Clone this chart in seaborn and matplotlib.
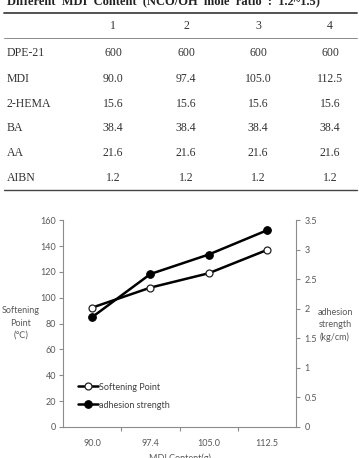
import matplotlib
matplotlib.use("Agg")
import matplotlib.pyplot as plt
import seaborn as sns
import pandas as pd
from matplotlib.lines import Line2D

# ---- data ----
col_headers = ["1", "2", "3", "4"]
row_labels = ["DPE-21", "MDI", "2-HEMA", "BA", "AA", "AIBN"]
row_values = [
    ["600", "600", "600", "600"],
    ["90.0", "97.4", "105.0", "112.5"],
    ["15.6", "15.6", "15.6", "15.6"],
    ["38.4", "38.4", "38.4", "38.4"],
    ["21.6", "21.6", "21.6", "21.6"],
    ["1.2", "1.2", "1.2", "1.2"],
]
table_title = "Different  MDI  Content  (NCO/OH  mole  ratio  :  1.2~1.5)"

mdi_content = ["90.0", "97.4", "105.0", "112.5"]
softening_point = [92.4, 107.9, 119.0, 137.0]
adhesion_strength = [1.86, 2.59, 2.92, 3.33]

W, H = 359, 458
sns.set_theme(style="white")
fig = plt.figure(figsize=(W / 100, H / 100), dpi=100)
fig.patch.set_facecolor("white")

def fx(px):
    return px / W

def fy(py):
    return 1 - py / H

# ---- table ----
serif = ["Liberation Serif", "DejaVu Serif"]
fig.text(fx(7), fy(4.6), table_title, family=serif, fontsize=9, weight="bold",
         va="baseline", ha="left", color="#222222")
fig.add_artist(Line2D([fx(4), fx(357)], [fy(12.7), fy(12.7)], color="#444444", lw=1.3))
fig.add_artist(Line2D([fx(4), fx(357)], [fy(37.7), fy(37.7)], color="#777777", lw=0.6))
fig.add_artist(Line2D([fx(4), fx(357)], [fy(190), fy(190)], color="#444444", lw=1.0))
col_x = [113, 186, 258, 330]
for cx, h in zip(col_x, col_headers):
    fig.text(fx(cx), fy(26), h, family=serif, fontsize=8.5, ha="center", va="center", color="#333333")
row_y = [52.7, 78.7, 103.7, 128.3, 153.3, 177.7]
for ry, lab, vals in zip(row_y, row_labels, row_values):
    fig.text(fx(6.7), fy(ry), lab, family=serif, fontsize=8.5, ha="left", va="center", color="#333333")
    for cx, v in zip(col_x, vals):
        fig.text(fx(cx), fy(ry), v, family=serif, fontsize=8.5, ha="center", va="center", color="#333333")

# ---- chart ----
sans = ["Lato", "DejaVu Sans"]
ax_l, ax_r, ax_t, ax_b = 63, 296, 220.3, 427
ax = fig.add_axes([fx(ax_l), fy(ax_b), (ax_r - ax_l) / W, (ax_b - ax_t) / H])
ax2 = ax.twinx()

df = pd.DataFrame({"pos": range(len(mdi_content)), "mdi": mdi_content,
                   "sp": softening_point, "ad": adhesion_strength})

sns.lineplot(data=df, x="pos", y="sp", ax=ax, color="black", lw=1.8, marker="o",
             markersize=5, markerfacecolor="white", markeredgecolor="#222222",
             markeredgewidth=0.9, label="Softening Point", legend=False)
sns.lineplot(data=df, x="pos", y="ad", ax=ax2, color="black", lw=1.8, marker="o",
             markersize=5.5, markerfacecolor="black", markeredgecolor="black",
             label="adhesion strength", legend=False)

ax.set_xlim(-0.5, len(mdi_content) - 0.5)
ax.set_ylim(0, 160)
ax2.set_ylim(0, 3.5)
ax.set_yticks(range(0, 161, 20))
ax2.set_yticks([0, 0.5, 1, 1.5, 2, 2.5, 3, 3.5])
ax2.set_yticklabels(["0", "0.5", "1", "1.5", "2", "2.5", "3", "3.5"])
ax.set_xticks(range(len(mdi_content)))
ax.set_xticklabels(mdi_content)
ax.set_xticks([0.5, 1.5, 2.5], minor=True)

axis_col = "#8c8c8c"
lab_col = "#595959"
for a in (ax, ax2):
    a.set_xlabel("")
    a.set_ylabel("")
    a.spines["top"].set_visible(False)
    for s in ("left", "right", "bottom"):
        a.spines[s].set_color(axis_col)
        a.spines[s].set_linewidth(0.8)
    a.grid(False)
ax.spines["right"].set_visible(False)
ax2.spines["left"].set_visible(False)
ax2.spines["bottom"].set_visible(False)

ax.tick_params(axis="y", which="both", left=True, length=3, width=0.8, color=axis_col,
               labelsize=6.5, labelcolor=lab_col, pad=2)
ax.tick_params(axis="x", which="major", bottom=False, labelsize=6.5, labelcolor=lab_col, pad=2.5)
ax.tick_params(axis="x", which="minor", bottom=True, length=3, width=0.8, color=axis_col)
ax2.tick_params(axis="y", right=True, length=3, width=0.8, color=axis_col,
                labelsize=6.5, labelcolor=lab_col, pad=3)
for t in ax.get_xticklabels() + ax.get_yticklabels() + ax2.get_yticklabels():
    t.set_family(sans)

fig.text(fx(21), fy(323), "Softening\nPoint\n(\u2103)", family=sans, fontsize=6.5,
         ha="center", va="center", color=lab_col, linespacing=1.5)
fig.text(fx(335), fy(325), "adhesion\nstrength\n(kg/cm)", family=sans, fontsize=6.5,
         ha="center", va="center", color=lab_col, linespacing=1.5)
fig.text(fx(180), fy(458.3), "MDI Content(g)", family=sans, fontsize=6.5,
         ha="center", va="center", color=lab_col)

h1, l1 = ax.get_legend_handles_labels()
h2, l2 = ax2.get_legend_handles_labels()
leg = ax2.legend(h1 + h2, l1 + l2, loc="lower left", bbox_to_anchor=(0.03, 0.045),
                 frameon=False, handlelength=2.2, handletextpad=0.1,
                 labelspacing=1.0, prop={"family": sans, "size": 6.5})
for t in leg.get_texts():
    t.set_color("#404040")

fig.savefig("out.png", dpi=100, facecolor="white")
